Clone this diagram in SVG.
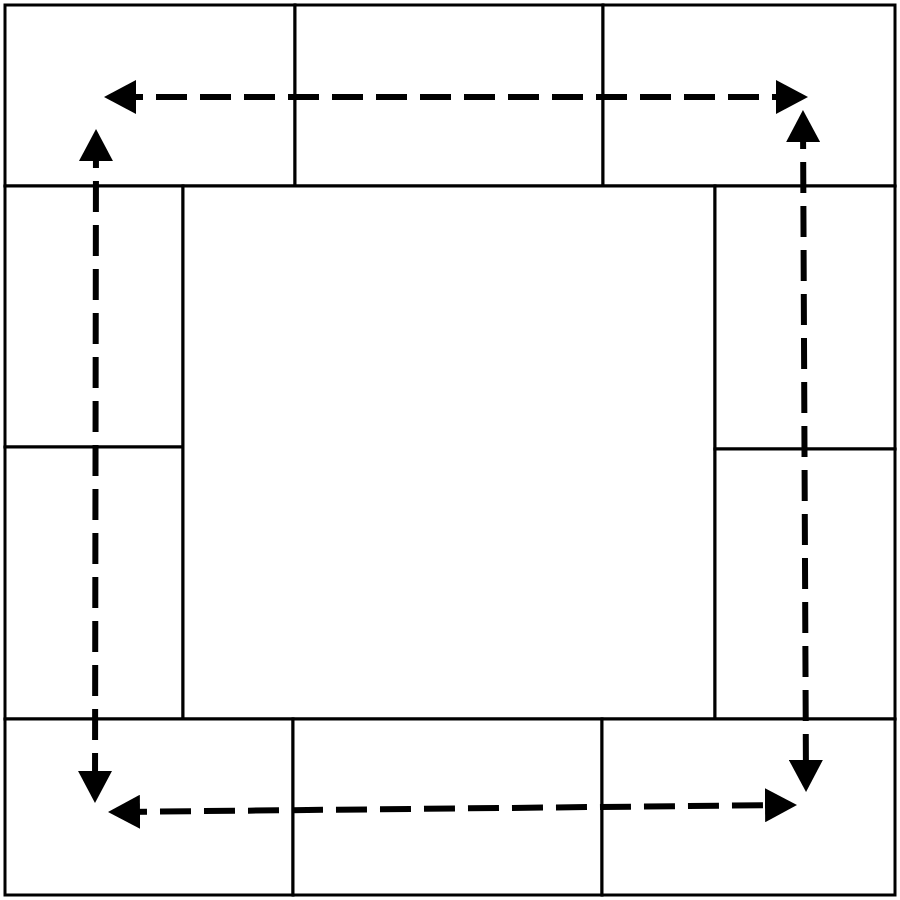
<svg xmlns="http://www.w3.org/2000/svg" width="900" height="900" viewBox="0 0 900 900">
<style>
.cell{fill:#fff;stroke:#000;stroke-width:3}
.flow{fill:none;stroke:#000;stroke-width:6;stroke-dasharray:31 13;marker-start:url(#ah);marker-end:url(#ah)}
</style>
<defs>
<marker id="ah" markerUnits="userSpaceOnUse" markerWidth="34" markerHeight="34" refX="24" refY="17" orient="auto-start-reverse" viewBox="0 0 34 34">
<path d="M0,0 L32,17 L0,34 Z" fill="#000"/>
</marker>
</defs>
<rect width="900" height="900" fill="#fff"/>
<g id="top-left"><rect class="cell" x="5" y="5" width="290" height="181"/></g>
<g id="top-middle"><rect class="cell" x="295" y="5" width="308" height="181"/></g>
<g id="top-right"><rect class="cell" x="603" y="5" width="292" height="181"/></g>
<g id="left-upper"><rect class="cell" x="5" y="186" width="178" height="261"/></g>
<g id="left-lower"><rect class="cell" x="5" y="447" width="178" height="272"/></g>
<g id="center"><rect class="cell" x="183" y="186" width="532" height="533"/></g>
<g id="right-upper"><rect class="cell" x="715" y="186" width="180" height="263"/></g>
<g id="right-lower"><rect class="cell" x="715" y="449" width="180" height="270"/></g>
<g id="bottom-left"><rect class="cell" x="5" y="719" width="288" height="176"/></g>
<g id="bottom-middle"><rect class="cell" x="293" y="719" width="309" height="176"/></g>
<g id="bottom-right"><rect class="cell" x="602" y="719" width="293" height="176"/></g>
<g id="connectors">
<line class="flow" x1="112" y1="97" x2="800" y2="97"/>
<line class="flow" x1="803" y1="118" x2="806" y2="784"/>
<line class="flow" x1="96" y1="137" x2="95" y2="795"/>
<line class="flow" x1="116" y1="812" x2="789" y2="805"/>
</g>
</svg>
